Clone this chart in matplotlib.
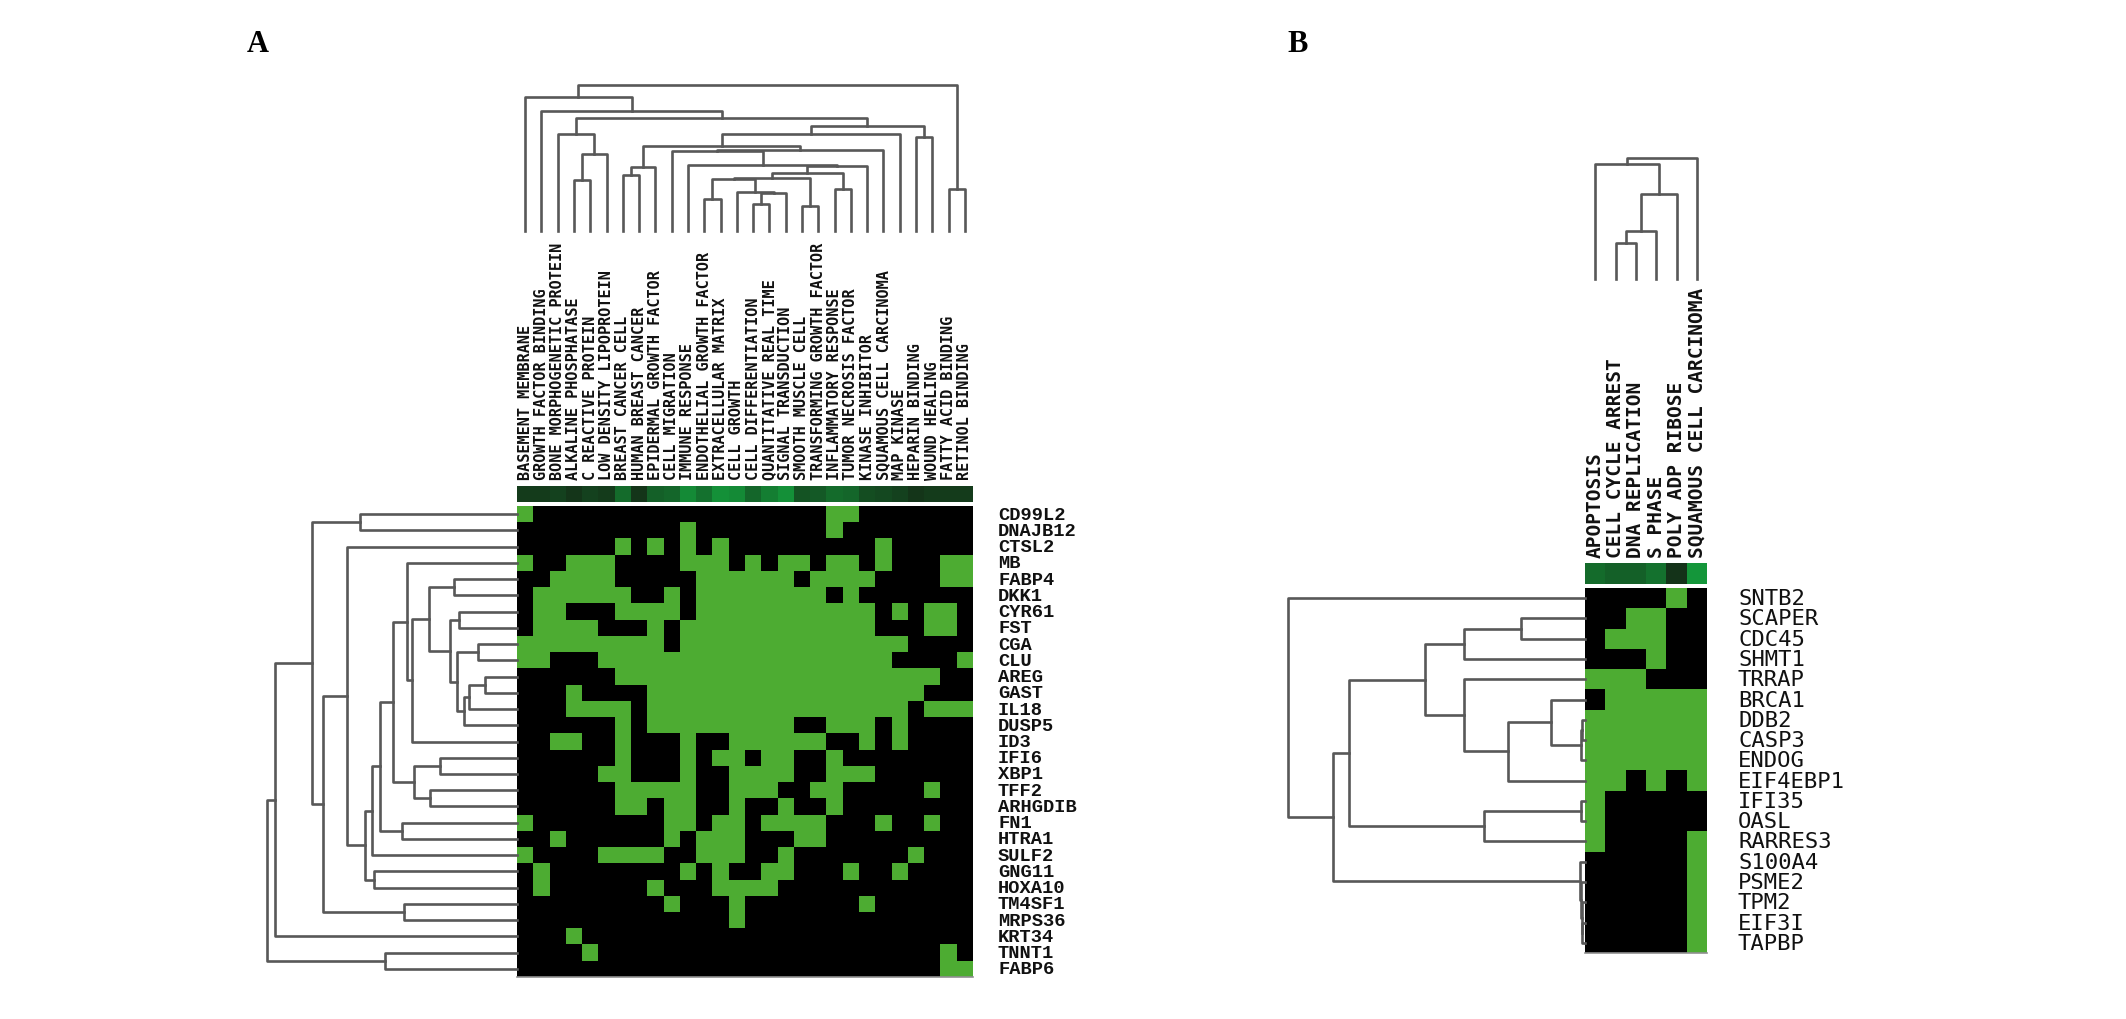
import numpy as np
import matplotlib
matplotlib.use("Agg")
import matplotlib.pyplot as plt
from matplotlib.colors import ListedColormap, LinearSegmentedColormap
from matplotlib.transforms import blended_transform_factory

# ---------------- DATA ----------------
a_cols = ["BASEMENT MEMBRANE", "GROWTH FACTOR BINDING", "BONE MORPHOGENETIC PROTEIN",
          "ALKALINE PHOSPHATASE", "C REACTIVE PROTEIN", "LOW DENSITY LIPOPROTEIN",
          "BREAST CANCER CELL", "HUMAN BREAST CANCER", "EPIDERMAL GROWTH FACTOR",
          "CELL MIGRATION", "IMMUNE RESPONSE", "ENDOTHELIAL GROWTH FACTOR",
          "EXTRACELLULAR MATRIX", "CELL GROWTH", "CELL DIFFERENTIATION",
          "QUANTITATIVE REAL TIME", "SIGNAL TRANSDUCTION", "SMOOTH MUSCLE CELL",
          "TRANSFORMING GROWTH FACTOR", "INFLAMMATORY RESPONSE", "TUMOR NECROSIS FACTOR",
          "KINASE INHIBITOR", "SQUAMOUS CELL CARCINOMA", "MAP KINASE", "HEPARIN BINDING",
          "WOUND HEALING", "FATTY ACID BINDING", "RETINOL BINDING"]
a_rows = ["CD99L2", "DNAJB12", "CTSL2", "MB", "FABP4", "DKK1", "CYR61", "FST", "CGA", "CLU",
          "AREG", "GAST", "IL18", "DUSP5", "ID3", "IFI6", "XBP1", "TFF2", "ARHGDIB", "FN1",
          "HTRA1", "SULF2", "GNG11", "HOXA10", "TM4SF1", "MRPS36", "KRT34", "TNNT1", "FABP6"]
# green (1) / black (0) cells, one string per gene row
a_matrix = [
    "1000000000000000000110000000",
    "0000000000100000000100000000",
    "0000001010101000000000100000",
    "1001110000111010110110100011",
    "0011110000011111101111000011",
    "0111111001011111111010000000",
    "0110001111011111111111010110",
    "0111100010111111111111000110",
    "1111111110111111111111110000",
    "1100011111111111111111100001",
    "0000001111111111111111111100",
    "0001000011111111111111111000",
    "0001111011111111111111110111",
    "0000001011111111100111010000",
    "0011001000100111111001010000",
    "0000001000101101100100000000",
    "0000011000100111100111000000",
    "0000001111100111001100000100",
    "0000001101100100100100000000",
    "1000000001101101111000100100",
    "0010000001011100011000000000",
    "1000011110011100100000001000",
    "0100000000101001100010010000",
    "0100000010001111000000000000",
    "0000000001000100000001000000",
    "0000000000000100000000000000",
    "0001000000000000000000000000",
    "0000100000000000000000000010",
    "0000000000000000000000000011",
]
a_colorbar = [0.15, 0.15, 0.2, 0.1, 0.2, 0.15, 0.55, 0.1, 0.45, 0.5, 0.8, 0.6, 0.85, 0.8,
              0.5, 0.7, 0.85, 0.35, 0.4, 0.55, 0.5, 0.3, 0.25, 0.2, 0.1, 0.15, 0.15, 0.15]
# dendrogram merges: (child_a, child_b, height); new node ids continue after leaves
a_col_links = [(3, 4, 153), (28, 5, 230), (2, 29, 290), (6, 7, 167), (31, 8, 193),
               (14, 15, 80), (33, 16, 113), (13, 34, 117), (11, 12, 95), (36, 35, 155),
               (17, 18, 75), (37, 38, 159), (19, 20, 125), (39, 40, 175), (41, 21, 195),
               (10, 42, 199), (9, 43, 238), (44, 22, 242), (32, 45, 255), (46, 23, 290),
               (24, 25, 280), (47, 48, 315), (30, 49, 337), (1, 50, 360), (0, 51, 402),
               (26, 27, 125), (52, 53, 437)]
a_row_links = [(0, 1, 472), (4, 5, 188), (6, 7, 175), (8, 9, 117), (10, 11, 95),
               (33, 12, 145), (34, 13, 160), (32, 35, 180), (31, 36, 200), (30, 37, 265),
               (38, 14, 315), (3, 39, 330), (15, 16, 230), (17, 18, 260), (41, 42, 310),
               (40, 43, 372), (19, 20, 345), (44, 45, 410), (46, 21, 435), (22, 23, 430),
               (47, 48, 455), (2, 49, 510), (24, 25, 340), (50, 51, 582), (29, 52, 615),
               (53, 26, 725), (27, 28, 395), (54, 55, 750)]

b_cols = ["APOPTOSIS", "CELL CYCLE ARREST", "DNA REPLICATION", "S PHASE",
          "POLY ADP RIBOSE", "SQUAMOUS CELL CARCINOMA"]
b_rows = ["SNTB2", "SCAPER", "CDC45", "SHMT1", "TRRAP", "BRCA1", "DDB2", "CASP3", "ENDOG",
          "EIF4EBP1", "IFI35", "OASL", "RARRES3", "S100A4", "PSME2", "TPM2", "EIF3I", "TAPBP"]
b_matrix = ["000010", "001100", "011100", "000100", "111000", "011111", "111111",
            "111111", "111111", "110101", "100000", "100000", "100001", "000001",
            "000001", "000001", "000001", "000001"]
b_colorbar = [0.55, 0.45, 0.45, 0.6, 0.08, 0.9]
b_col_links = [(1, 2, 108), (6, 3, 145), (7, 4, 255), (0, 8, 345), (9, 5, 362)]
b_row_links = [(6, 7, 8), (18, 8, 12), (5, 19, 102), (20, 9, 228), (4, 21, 360),
               (1, 2, 192), (23, 3, 360), (24, 22, 478), (10, 11, 12), (26, 12, 300),
               (25, 27, 702), (16, 17, 8), (15, 29, 10), (14, 30, 12), (13, 31, 14),
               (28, 32, 750), (0, 33, 885)]

# ---------------- STYLE ----------------
W, H = 2126, 1020
DPI = 100
GREEN = "#4dac32"
LINE = "#585858"
cell_cmap = ListedColormap(["#000000", GREEN])
bar_cmap = LinearSegmentedColormap.from_list("bar", ["#142a16", "#14a23e"])

fig = plt.figure(figsize=(W / DPI, H / DPI), dpi=DPI)


def px_axes(x0, y0, x1, y1):
    ax = fig.add_axes([x0 / W, 1 - y1 / H, (x1 - x0) / W, (y1 - y0) / H])
    ax.set_axis_off()
    return ax


def draw_dendro(ax, links, n, orient):
    pos = {i: i + 0.5 for i in range(n)}
    hgt = {i: 0.0 for i in range(n)}
    for k, (a, b, h) in enumerate(links):
        pa, pb = pos[a], pos[b]
        ha, hb = hgt[a], hgt[b]
        ps = [pa, pa, pb, pb]
        hs = [ha, h, h, hb]
        if orient == "top":
            ax.plot(ps, hs, color=LINE, lw=1.9, clip_on=False)
        else:
            ax.plot(hs, ps, color=LINE, lw=1.9, clip_on=False)
        pos[n + k] = (pa + pb) / 2
        hgt[n + k] = h
    return max(hgt.values())


def panel(matrix, cbar, cols, rows, col_links, row_links, box, lab_font, lab_size,
          lab_weight, lab_x, row_dendro_x0, col_dendro_y, col_label_bottom, cbar_box,
          col_fs):
    mat = np.array([[int(ch) for ch in r] for r in matrix])
    nr, nc = mat.shape
    x0, y0, x1, y1 = box
    ax = px_axes(x0, y0, x1, y1)
    ax.imshow(mat, cmap=cell_cmap, vmin=0, vmax=1, aspect="auto",
              interpolation="nearest", extent=(0, nc, nr, 0))
    ax.set_xlim(0, nc)
    ax.set_ylim(nr, 0)
    ax.plot([0, nc], [nr, nr], color="#909090", lw=1.2, clip_on=False)
    # colour bar above
    cb = px_axes(x0, cbar_box[0], x1, cbar_box[1])
    cb.imshow(np.array([cbar]), cmap=bar_cmap, vmin=0, vmax=1, aspect="auto",
              interpolation="nearest", extent=(0, nc, 1, 0))
    cb.set_xlim(0, nc)
    # top dendrogram
    dt = px_axes(x0, col_dendro_y[0], x1, col_dendro_y[1])
    m = draw_dendro(dt, col_links, nc, "top")
    dt.set_xlim(0, nc)
    dt.set_ylim(0, m)
    # left dendrogram
    dl = px_axes(row_dendro_x0, y0, x0, y1)
    m = draw_dendro(dl, row_links, nr, "left")
    dl.set_xlim(m, 0)
    dl.set_ylim(nr, 0)
    # column labels
    tr = blended_transform_factory(ax.transData, fig.transFigure)
    for i, name in enumerate(cols):
        fig.text(i + 0.5, 1 - col_label_bottom / H, name, transform=tr, rotation=90,
                 ha="center", va="bottom", family="DejaVu Sans Mono",
                 fontweight="bold", fontsize=col_fs, color="#111111")
    # row labels
    tr2 = blended_transform_factory(fig.transFigure, ax.transData)
    for j, name in enumerate(rows):
        fig.text(lab_x / W, j + 0.5, name, transform=tr2, ha="left", va="center",
                 family=lab_font, fontsize=lab_size, fontweight=lab_weight,
                 color="#111111")


panel(a_matrix, a_colorbar, a_cols, a_rows, a_col_links, a_row_links,
      (517, 507, 973, 978), "Liberation Mono", 13.5, "bold", 998, 267, (86, 232), 480,
      (487, 503), 11)
panel(b_matrix, b_colorbar, b_cols, b_rows, b_col_links, b_row_links,
      (1585, 589, 1707, 954), "DejaVu Sans Mono", 16, "normal", 1738, 1288, (159, 280),
      558, (564, 585), 14)

fig.text(258 / W, 1 - 44 / H, "A", family="Liberation Serif", fontweight="bold",
         fontsize=22, ha="center", va="center")
fig.text(1298 / W, 1 - 44 / H, "B", family="Liberation Serif", fontweight="bold",
         fontsize=22, ha="center", va="center")

fig.savefig("out.png", dpi=DPI, facecolor="white")
